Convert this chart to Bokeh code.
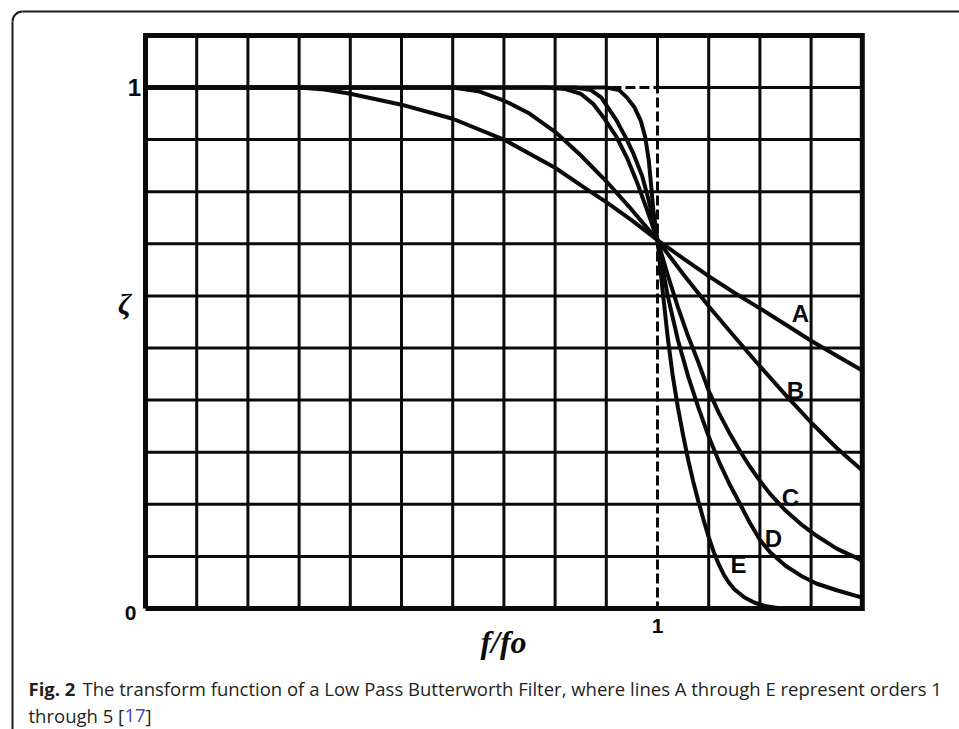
from bokeh.plotting import figure
from bokeh.models import Range1d
from bokeh.core.properties import value
from bokeh.embed import file_html
from bokeh.resources import INLINE

W, H = 959, 729

# ---- data -------------------------------------------------------------
# grid of the chart: f/fo from 0 to 1.4, zeta from 0 to 1.1, lines every 0.1
grid_x = [0.0, 0.1, 0.2, 0.3, 0.4, 0.5, 0.6, 0.7, 0.8, 0.9, 1.0, 1.1, 1.2, 1.3, 1.4]
grid_y = [0.0, 0.1, 0.2, 0.3, 0.4, 0.5, 0.6, 0.7, 0.8, 0.9, 1.0, 1.1]
x_max, y_max = 1.4, 1.1
cutoff = 1.0          # f/fo = 1, the ideal (dashed) cut-off
dash_start = 0.91     # where the ideal response leaves the curves on the top line

# Butterworth responses, orders 1..5 (curves A..E)
a_x = [0.0, 0.3, 0.35, 0.4, 0.5, 0.6, 0.7, 0.8, 0.86, 0.9, 0.95, 1.0,
       1.05, 1.1, 1.15, 1.2, 1.25, 1.3, 1.35, 1.4]
a_y = [1.0, 1.0, 0.996, 0.988, 0.967, 0.940, 0.900, 0.846, 0.806, 0.780, 0.745, 0.707,
       0.672, 0.638, 0.606, 0.576, 0.545, 0.514, 0.485, 0.457]

b_x = [0.0, 0.6, 0.65, 0.7, 0.75, 0.8, 0.85, 0.9, 0.95, 1.0,
       1.05, 1.1, 1.15, 1.2, 1.25, 1.3, 1.35, 1.4]
b_y = [1.0, 1.0, 0.993, 0.975, 0.950, 0.915, 0.870, 0.820, 0.765, 0.707,
       0.642, 0.580, 0.522, 0.465, 0.410, 0.357, 0.308, 0.265]

c_x = [0.0, 0.78, 0.82, 0.85, 0.875, 0.895, 0.92, 0.94, 0.96, 0.98, 1.0,
       1.02, 1.04, 1.06, 1.08, 1.10, 1.12, 1.14, 1.16, 1.18, 1.20, 1.22,
       1.25, 1.28, 1.31, 1.35, 1.40]
c_y = [1.0, 1.0, 0.997, 0.988, 0.968, 0.942, 0.905, 0.866, 0.818, 0.764, 0.707,
       0.640, 0.578, 0.522, 0.472, 0.418, 0.375, 0.338, 0.304, 0.273, 0.245, 0.220,
       0.188, 0.162, 0.140, 0.115, 0.092]

d_x = [0.0, 0.84, 0.87, 0.89, 0.92, 0.94, 0.953, 0.97, 0.983, 1.0,
       1.02, 1.04, 1.06, 1.08, 1.10, 1.12, 1.14, 1.16, 1.18, 1.20, 1.22,
       1.25, 1.28, 1.31, 1.35, 1.40]
d_y = [1.0, 1.0, 0.995, 0.981, 0.937, 0.900, 0.873, 0.830, 0.783, 0.707,
       0.600, 0.515, 0.445, 0.385, 0.330, 0.282, 0.240, 0.203, 0.165, 0.132, 0.108,
       0.082, 0.063, 0.048, 0.035, 0.021]

e_x = [0.0, 0.9, 0.925, 0.94, 0.955, 0.967, 0.976, 0.983, 0.992, 1.0,
       1.01, 1.02, 1.03, 1.04, 1.05, 1.06, 1.07, 1.08, 1.09, 1.10, 1.11,
       1.12, 1.13, 1.14, 1.15, 1.17, 1.19, 1.21, 1.24]
e_y = [1.0, 1.0, 0.995, 0.981, 0.962, 0.937, 0.905, 0.860, 0.764, 0.707,
       0.610, 0.520, 0.445, 0.385, 0.333, 0.285, 0.243, 0.205, 0.170, 0.137, 0.108,
       0.084, 0.064, 0.049, 0.037, 0.021, 0.011, 0.005, 0.0]

curve_names = ["A", "B", "C", "D", "E"]
curves = [(a_x, a_y), (b_x, b_y), (c_x, c_y), (d_x, d_y), (e_x, e_y)]

y_tick_labels = ["0", "1"]
x_tick_label = "1"

caption_bold = "Fig. 2"
caption_line1 = "The transform function of a Low Pass Butterworth Filter, where lines A through E represent orders 1"
caption_line2 = "through 5 ["
caption_ref = "17"
caption_end = "]"

# ---- layout (pixel placement of the chart on the page) -------------------
X0_PX, X_UNIT_PX = 145, 512   # f/fo = 0 and pixels per unit
Y0_PX, Y_UNIT_PX = 608, 521   # zeta = 0 and pixels per unit


def xd(px):
    return (px - X0_PX) / X_UNIT_PX


def yd(py):
    return (Y0_PX - py) / Y_UNIT_PX


p = figure(width=W, height=H, output_backend="svg", toolbar_location=None,
           x_range=Range1d(xd(0), xd(W)), y_range=Range1d(yd(H), yd(0)),
           x_axis_location=None, y_axis_location=None, min_border=0,
           background_fill_color="white", border_fill_color="white")
p.outline_line_color = None
p.xgrid.visible = False
p.ygrid.visible = False

INK = "#0a0a0a"
GRID_W = 3

# vertical grid lines
vx = [g for g in grid_x[1:-1] if g != cutoff]
p.segment(x0=vx, y0=[0] * len(vx), x1=vx, y1=[y_max] * len(vx),
          line_color=INK, line_width=GRID_W)
p.segment(x0=[cutoff], y0=[1.0], x1=[cutoff], y1=[y_max], line_color=INK, line_width=GRID_W)

# horizontal grid lines
hy = [g for g in grid_y[1:-1] if g != 1.0]
p.segment(x0=[0] * len(hy), y0=hy, x1=[x_max] * len(hy), y1=hy,
          line_color=INK, line_width=GRID_W)
p.segment(x0=[0, cutoff], y0=[1.0, 1.0], x1=[dash_start, x_max], y1=[1.0, 1.0],
          line_color=INK, line_width=GRID_W)

# ideal low-pass response (dashed)
p.line([dash_start, cutoff, cutoff], [1.0, 1.0, 0.0], line_color=INK, line_width=GRID_W,
       line_dash="10 4")

# outer frame
p.line([0, x_max, x_max, 0, 0], [0, 0, y_max, y_max, 0], line_color=INK, line_width=5,
       line_join="miter")

# response curves
for (cx, cy) in curves:
    p.line(cx, cy, line_color=INK, line_width=4, line_join="round", line_cap="round")

# curve labels
lab_px = [(800, 313), (795, 390), (790, 497), (773, 538), (738, 564)]
p.text(x=[xd(a) for a, _ in lab_px], y=[yd(b) for _, b in lab_px], text=curve_names,
       text_font=value("Liberation Sans"), text_font_style="bold", text_font_size="24px",
       text_color=INK, text_align="center", text_baseline="middle")

# axis marks
p.text(x=[xd(134)], y=[1.0], text=[y_tick_labels[1]], text_font=value("Liberation Sans"),
       text_font_style="bold", text_font_size="24px", text_color=INK,
       text_align="center", text_baseline="middle")
p.text(x=[xd(130)], y=[yd(612)], text=[y_tick_labels[0]], text_font=value("Liberation Sans"),
       text_font_style="bold", text_font_size="21px", text_color=INK,
       text_align="center", text_baseline="middle")
p.text(x=[cutoff], y=[yd(625)], text=[x_tick_label], text_font=value("Liberation Sans"),
       text_font_style="bold", text_font_size="21px", text_color=INK,
       text_align="center", text_baseline="middle")
p.text(x=[xd(124)], y=[yd(303)], text=["ζ"], text_font=value("Liberation Serif"),
       text_font_style="bold italic", text_font_size="30px", text_color=INK,
       text_align="center", text_baseline="middle")
p.text(x=[xd(503)], y=[yd(641)], text=["f/fo"], text_font=value("Liberation Serif"),
       text_font_style="bold italic", text_font_size="32px", text_color=INK,
       text_align="center", text_baseline="middle")

# rounded frame around figure and caption
R = 10
p.line([xd(12), xd(12)], [yd(H), yd(11 + R)], line_color="#1a1a1a", line_width=2)
p.line([xd(11 + R + 1), xd(W)], [yd(11), yd(11)], line_color="#1a1a1a", line_width=2)
p.arc(x=[xd(12 + R)], y=[yd(11 + R)], radius=R, radius_units="screen",
      start_angle=1.5708, end_angle=3.1416, line_color="#1a1a1a", line_width=2)

# caption
CAP_FONT = value("Open Sans")
CAP_COLOR = "#231f20"
CAP_SIZE = "18.5px"
L1, L2 = 688, 715
p.text(x=[xd(28)], y=[yd(L1)], text=[caption_bold], text_font=CAP_FONT,
       text_font_style="bold", text_font_size=CAP_SIZE, text_color=CAP_COLOR,
       text_baseline="alphabetic")
p.text(x=[xd(82)], y=[yd(L1)], text=[caption_line1], text_font=CAP_FONT,
       text_font_size=CAP_SIZE, text_color=CAP_COLOR, text_baseline="alphabetic")
p.text(x=[xd(28)], y=[yd(L2)], text=[caption_line2], text_font=CAP_FONT,
       text_font_size=CAP_SIZE, text_color=CAP_COLOR, text_baseline="alphabetic")
p.text(x=[xd(124)], y=[yd(L2)], text=[caption_ref], text_font=CAP_FONT,
       text_font_size=CAP_SIZE, text_color="#3a45c8", text_baseline="alphabetic")
p.text(x=[xd(145)], y=[yd(L2)], text=[caption_end], text_font=CAP_FONT,
       text_font_size=CAP_SIZE, text_color=CAP_COLOR, text_baseline="alphabetic")

open("out.html", "w").write(file_html(p, INLINE))
